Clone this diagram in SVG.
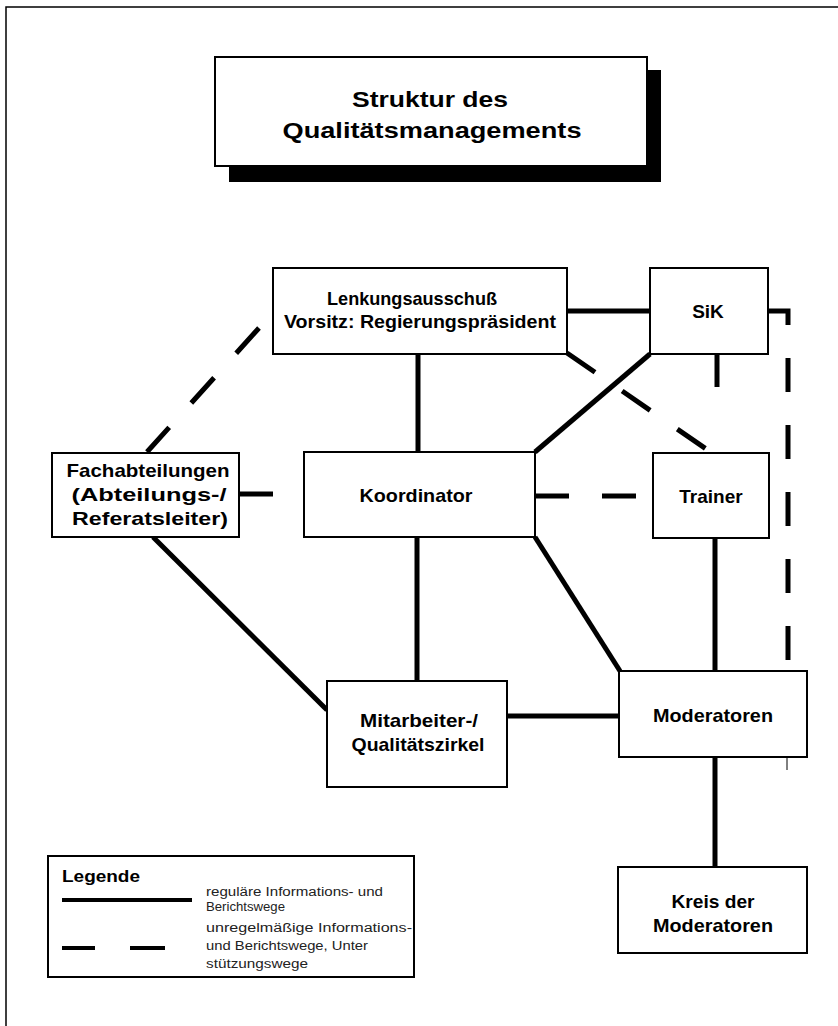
<svg xmlns="http://www.w3.org/2000/svg" width="838" height="1026" viewBox="0 0 838 1026">
<style>
.box{fill:#fff;stroke:#000;stroke-width:2}
.lbl{font-family:"Liberation Sans",Arial,sans-serif;font-weight:bold;font-size:19px;fill:#000;text-anchor:middle}
.ttl{font-family:"Liberation Sans",Arial,sans-serif;font-weight:bold;font-size:22px;fill:#000;text-anchor:middle}
.leg{font-family:"Liberation Sans",Arial,sans-serif;font-size:12px;fill:#222}
.solid{stroke:#000;stroke-width:5;fill:none}
.dash{stroke:#000;stroke-width:5;fill:none;stroke-dasharray:34 33}
</style>
<rect width="838" height="1026" fill="#fff"/>
<g id="frame" fill="none" stroke="#000" stroke-width="1.5">
<path d="M6,1026 V7 H838"/>
</g>
<g id="title">
<rect x="229" y="70" width="432" height="112" fill="#000"/>
<rect class="box" x="215" y="57" width="432" height="109"/>
<text class="ttl" x="430" y="107" textLength="156" lengthAdjust="spacingAndGlyphs">Struktur des</text>
<text class="ttl" x="432" y="138" textLength="299" lengthAdjust="spacingAndGlyphs">Qualitätsmanagements</text>
</g>
<g id="connectors">
<path class="solid" d="M567,311 H650"/>
<path class="solid" d="M418,354 V452"/>
<path class="solid" d="M650,354 L535,452"/>
<path class="solid" d="M153,537 L327,710"/>
<path class="solid" d="M417,537 V681"/>
<path class="solid" d="M535,537 L620,671"/>
<path class="solid" d="M507,716 H619"/>
<path class="solid" d="M715,538 V671"/>
<path class="solid" d="M715,757 V867"/>
<path class="dash" d="M239,494 H304"/>
<path class="dash" d="M535,496 H653"/>
<path class="dash" d="M259,328 L147,452"/>
<path class="dash" d="M567,353 L712,453"/>
<path class="dash" style="stroke-dasharray:33 200" d="M717,354 V453"/>
<path class="dash" d="M768,311 H788 V663"/>
<path d="M787,757 V770" stroke="#000" stroke-width="1"/>
</g>
<g id="lenkungsausschuss">
<rect class="box" x="273" y="268" width="294" height="86"/>
<text class="lbl" x="412" y="305" textLength="170" lengthAdjust="spacingAndGlyphs">Lenkungsausschuß</text>
<text class="lbl" x="420" y="328" textLength="272" lengthAdjust="spacingAndGlyphs">Vorsitz: Regierungspräsident</text>
</g>
<g id="sik">
<rect class="box" x="650" y="268" width="118" height="86"/>
<text class="lbl" x="708" y="318">SiK</text>
</g>
<g id="fachabteilungen">
<rect class="box" x="52" y="453" width="187" height="84"/>
<text class="lbl" x="148" y="477" textLength="163" lengthAdjust="spacingAndGlyphs">Fachabteilungen</text>
<text class="lbl" x="149" y="501" textLength="155" lengthAdjust="spacingAndGlyphs">(Abteilungs-/</text>
<text class="lbl" x="150" y="525" textLength="156" lengthAdjust="spacingAndGlyphs">Referatsleiter)</text>
</g>
<g id="koordinator">
<rect class="box" x="304" y="452" width="231" height="85"/>
<text class="lbl" x="416" y="502" textLength="113" lengthAdjust="spacingAndGlyphs">Koordinator</text>
</g>
<g id="trainer">
<rect class="box" x="653" y="453" width="116" height="85"/>
<text class="lbl" x="711" y="503">Trainer</text>
</g>
<g id="mitarbeiter">
<rect class="box" x="327" y="681" width="180" height="106"/>
<text class="lbl" x="419" y="727" textLength="118" lengthAdjust="spacingAndGlyphs">Mitarbeiter-/</text>
<text class="lbl" x="418" y="751" textLength="133" lengthAdjust="spacingAndGlyphs">Qualitätszirkel</text>
</g>
<g id="moderatoren">
<rect class="box" x="619" y="671" width="188" height="86"/>
<text class="lbl" x="713" y="722" textLength="120" lengthAdjust="spacingAndGlyphs">Moderatoren</text>
</g>
<g id="kreis">
<rect class="box" x="618" y="867" width="189" height="86"/>
<text class="lbl" x="713" y="908" textLength="83" lengthAdjust="spacingAndGlyphs">Kreis der</text>
<text class="lbl" x="713" y="932" textLength="120" lengthAdjust="spacingAndGlyphs">Moderatoren</text>
</g>
<g id="legende">
<rect class="box" x="48" y="856" width="366" height="121"/>
<text x="62" y="882" font-family="Liberation Sans, Arial, sans-serif" font-weight="bold" font-size="17" textLength="78" lengthAdjust="spacingAndGlyphs">Legende</text>
<path d="M62,900 H192" stroke="#000" stroke-width="4"/>
<path d="M62,948 H95 M130,948 H165" stroke="#000" stroke-width="4"/>
<text class="leg" x="206" y="896" textLength="177" lengthAdjust="spacingAndGlyphs">reguläre Informations- und</text>
<text class="leg" x="206" y="911" textLength="79" lengthAdjust="spacingAndGlyphs">Berichtswege</text>
<text class="leg" x="206" y="932" textLength="206" lengthAdjust="spacingAndGlyphs">unregelmäßige Informations-</text>
<text class="leg" x="206" y="950" textLength="162" lengthAdjust="spacingAndGlyphs">und Berichtswege, Unter</text>
<text class="leg" x="206" y="968" textLength="102" lengthAdjust="spacingAndGlyphs">stützungswege</text>
</g>
</svg>
